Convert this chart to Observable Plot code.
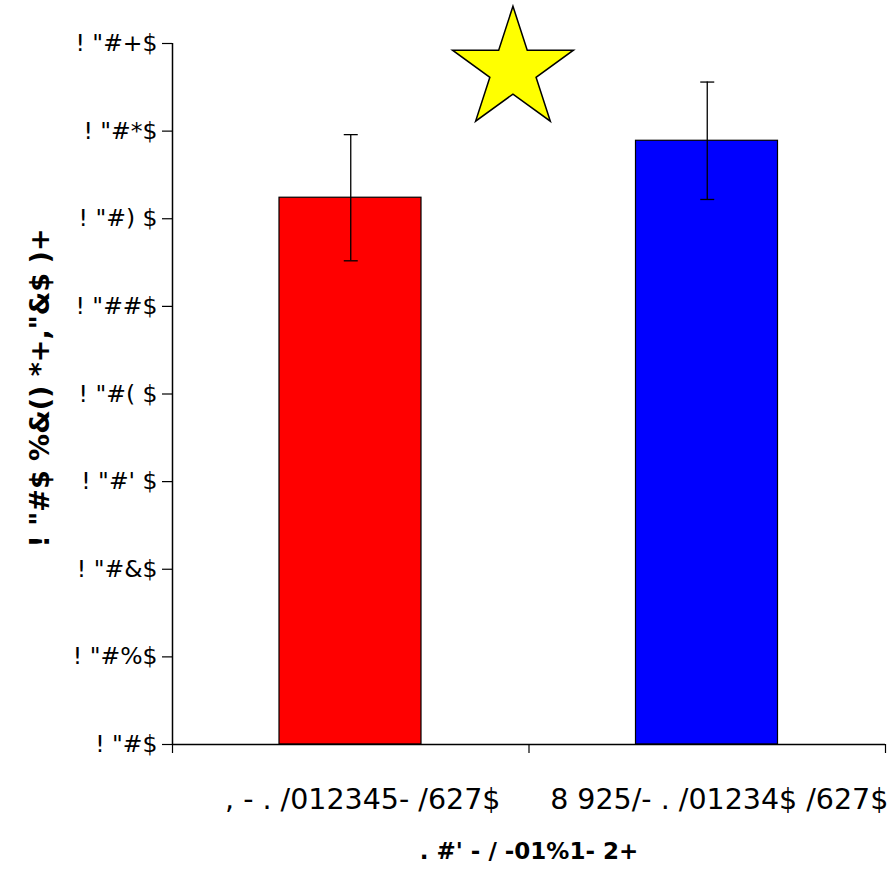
<!DOCTYPE html>
<html>
<head>
<meta charset="utf-8">
<script src="https://cdn.jsdelivr.net/npm/d3@7"></script>
<script src="https://cdn.jsdelivr.net/npm/@observablehq/plot@0.6"></script>
<style>
  html, body { margin: 0; padding: 0; background: #fff; }
</style>
</head>
<body>
<div id="chart"></div>
<script>
const categories = [", - . /012345- /627$", "8 925/- . /01234$ /627$"];
const values = [6.24, 6.89];
const errors = [0.72, 0.67];
const colors = ["#FF0000", "#0000FF"];
const yTicks = [0, 1, 2, 3, 4, 5, 6, 7, 8];
const yTickLabels = ['! "#$', '! "#%$', '! "#&$', "! \"#' $", '! "#( $', '! "##$', '! "#) $', '! "#*$', '! "#+$'];
const yTitle = '! "#$ %&() *+,"&$ )+';
const xTitle = ". #' - / -01%1- 2+";
const star = [{x: 0.955, y: 7.7}];

const data = categories.map((c, i) => ({cat: c, i, value: values[i], err: errors[i], color: colors[i]}));
const caps = data.flatMap(d => [{x: d.i + 0.5, y: d.value - d.err}, {x: d.i + 0.5, y: d.value + d.err}]);
const capSymbol = {draw(ctx) { ctx.moveTo(-7, 0); ctx.lineTo(7, 0); }};
const font = "'DejaVu Sans', sans-serif";

const chart = Plot.plot({
  width: 893,
  height: 880,
  marginLeft: 172,
  marginRight: 8,
  marginTop: 43,
  marginBottom: 136,
  x: {domain: [0, 2]},
  y: {domain: [0, 8]},
  style: {fontFamily: font, background: "#fff", color: "#000"},
  marks: [
    Plot.rectY(data, {x1: "i", x2: d => d.i + 1, y1: 0, y2: "value", fill: "color", stroke: "#000", strokeWidth: 1.2, insetLeft: 107, insetRight: 107.5}),
    Plot.ruleX(data, {x: d => d.i + 0.5, y1: d => d.value - d.err, y2: d => d.value + d.err, stroke: "#000", strokeWidth: 1.3}),
    Plot.dot(caps, {x: "x", y: "y", symbol: capSymbol, stroke: "#000", strokeWidth: 1.3, r: 5}),
    Plot.ruleX([0], {stroke: "#000", strokeWidth: 1.5}),
    Plot.ruleY([0], {stroke: "#000", strokeWidth: 1.5}),
    Plot.axisY({ticks: yTicks, tickFormat: v => yTickLabels[v], tickSize: 10, tickPadding: 5, fontSize: 23.5, label: null, stroke: "#000", strokeWidth: 1.2}),
    Plot.axisX({ticks: [0, 1, 2], tickFormat: () => "", tickSize: 9, label: null, stroke: "#000", strokeWidth: 1.2}),
    Plot.axisX({ticks: [0.5, 1.5], tickFormat: v => categories[Math.floor(v)], tickSize: 0, tickPadding: 44, fontSize: 28.5, label: null, dx: 12}),
    Plot.text([yTitle], {text: d => d, frameAnchor: "left", textAnchor: "middle", dx: -132, dy: -6, rotate: -90, fontSize: 27, fontWeight: "bold", fill: "#000"}),
    Plot.text([xTitle], {text: d => d, frameAnchor: "bottom", dy: 114, fontSize: 23, fontWeight: "bold", fill: "#000"}),
    Plot.dot(star, {x: "x", y: "y", symbol: "star", r: 38, fill: "#FFFF00", stroke: "#000", strokeWidth: 1.5})
  ]
});
document.getElementById("chart").appendChild(chart);
</script>
</body>
</html>
